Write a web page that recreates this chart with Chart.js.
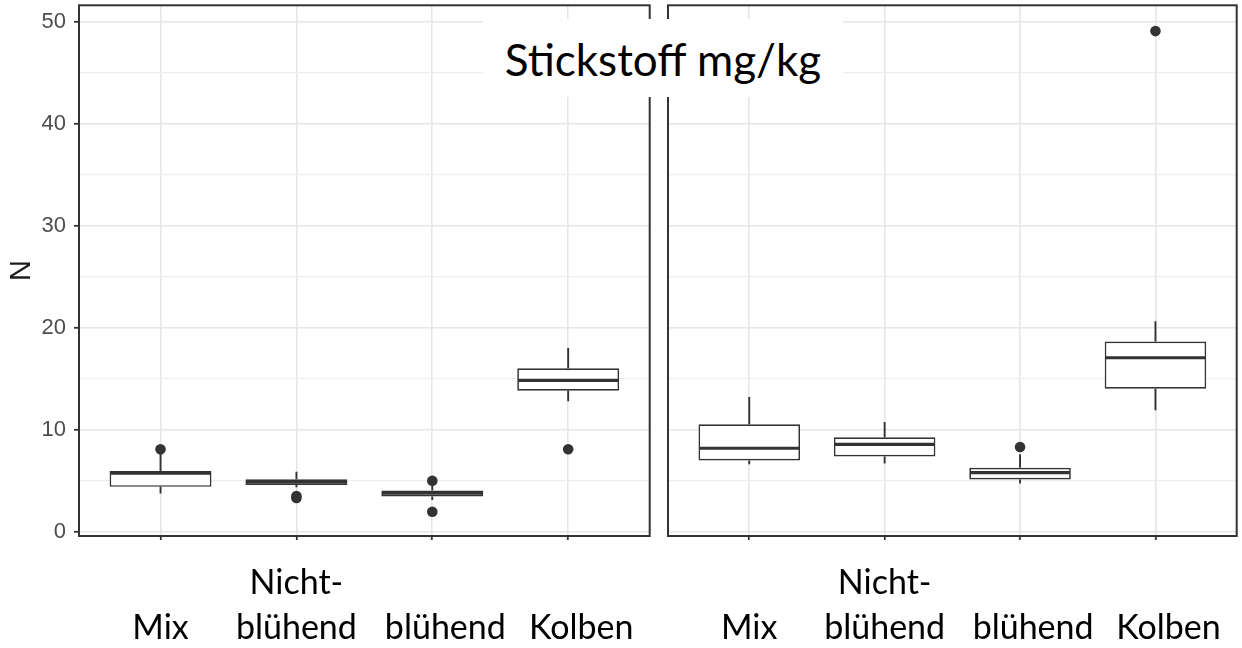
<!DOCTYPE html>
<html>
<head>
<meta charset="utf-8">
<script src="https://cdn.jsdelivr.net/npm/chart.js@4.4.0/dist/chart.umd.min.js"></script>
<style>
  html, body { margin: 0; padding: 0; background: #fff; }
  #stage { position: relative; width: 1242px; height: 648px; overflow: hidden; background: #fff; }
  .panel { position: absolute; top: 0; height: 648px; }
  #left { left: 0; width: 655px; }
  #right { left: 662px; width: 580px; }
  #title {
    position: absolute; left: 483px; top: 19px; width: 360px; height: 78px;
    background: #fff; color: #000; text-align: center;
    font-family: Lato, "Open Sans", sans-serif; font-size: 44px; line-height: 80px;
    z-index: 5;
  }
</style>
</head>
<body>
<div id="stage">
  <div class="panel" id="left"><canvas id="cLeft"></canvas></div>
  <div class="panel" id="right"><canvas id="cRight"></canvas></div>
  <div id="title">Stickstoff mg/kg</div>
</div>
<script>
// Categories and their two-line axis labels
const categories = ['Mix', 'Nicht-blühend', 'blühend', 'Kolben'];
const categoryLabels = [['', 'Mix'], ['Nicht-', 'blühend'], ['', 'blühend'], ['', 'Kolben']];

// Y axis: labelled ticks and minor grid positions
const yMajorTicks = [0, 10, 20, 30, 40, 50];
const yMinorTicks = [5, 15, 25, 35, 45];

// Left panel box statistics (N, mg/kg)
const leftLower  = [3.75, 4.35, 3.10, 12.80];
const leftQ1     = [4.40, 4.57, 3.46, 13.82];
const leftMedian = [5.75, 4.86, 3.78, 14.83];
const leftQ3     = [5.95, 5.15, 4.05, 16.03];
const leftUpper  = [7.66, 5.87, 4.57, 18.02];
const leftOutlierCat = [1, 2, 2, 3, 3, 4];
const leftOutlierVal = [8.08, 3.50, 3.30, 4.99, 1.96, 8.08];

// Right panel box statistics (N, mg/kg)
const rightLower  = [6.62, 6.68, 4.73, 11.90];
const rightQ1     = [6.98, 7.37, 5.12, 14.02];
const rightMedian = [8.18, 8.57, 5.80, 17.05];
const rightQ3     = [10.53, 9.26, 6.26, 18.64];
const rightUpper  = [13.20, 10.75, 7.60, 20.63];
const rightOutlierCat = [3, 4];
const rightOutlierVal = [8.31, 49.07];

const INK = '#333333';
const labelFont = 'Lato, "Open Sans", sans-serif';
const tickFont = '"Liberation Sans", Arial, sans-serif';

// The last two category names sit a little right of their ticks
const labelIndent = [0, 0, 3, 3];
const indentLabel = (lines, i) =>
  lines.map(t => t ? '\u00a0'.repeat(labelIndent[i]) + t : t);

// Whiskers and median lines, positioned through the chart's scales
function boxDetailsPlugin(lower, q1, median, q3, upper) {
  return {
    id: 'boxDetails',
    afterDatasetsDraw(chart) {
      const { ctx } = chart;
      const xs = chart.scales.x, ys = chart.scales.y;
      const meta = chart.getDatasetMeta(0);
      ctx.save();
      ctx.strokeStyle = INK;
      ctx.lineCap = 'butt';
      meta.data.forEach((bar, i) => {
        const cx = xs.getPixelForValue(i + 1);
        const half = bar.width / 2;
        ctx.lineWidth = 1.9;
        ctx.beginPath();
        ctx.moveTo(cx, ys.getPixelForValue(q3[i]));
        ctx.lineTo(cx, ys.getPixelForValue(upper[i]));
        ctx.moveTo(cx, ys.getPixelForValue(q1[i]));
        ctx.lineTo(cx, ys.getPixelForValue(lower[i]));
        ctx.stroke();
        const ym = ys.getPixelForValue(median[i]);
        ctx.lineWidth = 3.2;
        ctx.beginPath();
        ctx.moveTo(cx - half + 1, ym);
        ctx.lineTo(cx + half - 1, ym);
        ctx.stroke();
      });
      ctx.restore();
    }
  };
}

// Panel frame drawn around the plotting area
const framePlugin = {
  id: 'panelFrame',
  afterDraw(chart) {
    const { ctx, chartArea: a } = chart;
    ctx.save();
    ctx.strokeStyle = INK;
    ctx.lineWidth = 2;
    ctx.strokeRect(a.left, a.top, a.right - a.left, a.bottom - a.top);
    ctx.restore();
  }
};

function makePanel(canvasId, stats, showY) {
  const { lower, q1, median, q3, upper, outCat, outVal } = stats;
  const yTicks = yMajorTicks.concat(yMinorTicks).sort((a, b) => a - b);
  const isMajor = (v) => yMajorTicks.includes(v);
  return new Chart(document.getElementById(canvasId), {
    type: 'bar',
    data: {
      datasets: [
        {
          type: 'bar',
          data: categories.map((c, i) => ({ x: i + 1, y: [q1[i], q3[i]] })),
          backgroundColor: '#ffffff',
          borderColor: INK,
          borderWidth: 1.7,
          borderSkipped: false,
          barPercentage: 0.75,
          categoryPercentage: 1,
          order: 2
        },
        {
          type: 'scatter',
          data: outCat.map((c, i) => ({ x: c, y: outVal[i] })),
          pointRadius: 5.3,
          pointBackgroundColor: INK,
          pointBorderWidth: 0,
          order: 1
        }
      ]
    },
    options: {
      responsive: true,
      maintainAspectRatio: false,
      animation: false,
      events: [],
      layout: { padding: { top: 4, right: 3, left: 0, bottom: 0 } },
      plugins: { legend: { display: false }, tooltip: { enabled: false } },
      scales: {
        x: {
          type: 'linear',
          min: 0.4,
          max: 4.6,
          offset: false,
          afterBuildTicks: (s) => { s.ticks = categories.map((c, i) => ({ value: i + 1 })); },
          ticks: {
            autoSkip: false,
            maxRotation: 0,
            padding: 21,
            color: '#000',
            font: { family: labelFont, size: 34, lineHeight: 1.32 },
            callback: (v, i) => indentLabel(categoryLabels[i], i)
          },
          grid: {
            offset: false,
            color: '#e6e6e6',
            lineWidth: 1.6,
            tickLength: 4,
            tickColor: INK,
            tickWidth: 1.8
          },
          border: { display: false },
          afterFit: (s) => { s.height = 112; s.paddingLeft = 0; s.paddingRight = 0; }
        },
        y: {
          min: -0.42,
          max: 51.6,
          afterBuildTicks: (s) => { s.ticks = yTicks.map(v => ({ value: v })); },
          ticks: {
            display: showY,
            autoSkip: false,
            padding: 8,
            color: '#4d4d4d',
            font: { family: tickFont, size: 22 },
            callback: (v) => isMajor(v) ? String(v) : ''
          },
          grid: {
            drawTicks: showY,
            tickLength: 5,
            color: (c) => (c.tick && isMajor(c.tick.value)) ? '#e6e6e6' : '#eeeeee',
            lineWidth: (c) => (c.tick && isMajor(c.tick.value)) ? 1.6 : 1.3,
            tickColor: (c) => (c.tick && isMajor(c.tick.value)) ? INK : 'rgba(0,0,0,0)',
            tickWidth: 1.8
          },
          border: { display: false },
          title: {
            display: showY,
            text: 'N',
            color: '#1a1a1a',
            font: { family: tickFont, size: 29 },
            padding: { top: 5, bottom: 0 }
          },
          afterFit: (s) => { s.width = showY ? 79 : 6; s.paddingTop = 0; s.paddingBottom = 0; }
        }
      }
    },
    plugins: [boxDetailsPlugin(lower, q1, median, q3, upper), framePlugin]
  });
}

makePanel('cLeft', {
  lower: leftLower, q1: leftQ1, median: leftMedian, q3: leftQ3, upper: leftUpper,
  outCat: leftOutlierCat, outVal: leftOutlierVal
}, true);

makePanel('cRight', {
  lower: rightLower, q1: rightQ1, median: rightMedian, q3: rightQ3, upper: rightUpper,
  outCat: rightOutlierCat, outVal: rightOutlierVal
}, false);
</script>
</body>
</html>
